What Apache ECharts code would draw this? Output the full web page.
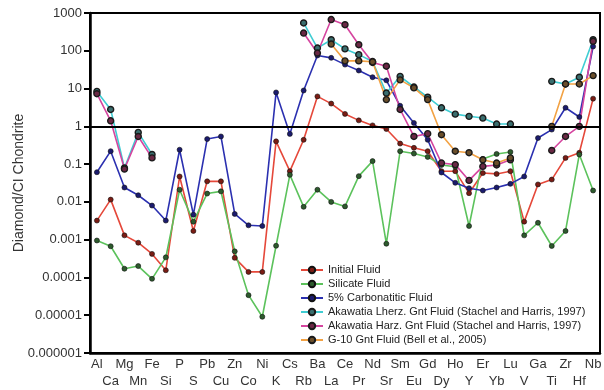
<!DOCTYPE html>
<html>
<head>
<meta charset="utf-8">
<script src="https://cdn.jsdelivr.net/npm/echarts@6/dist/echarts.min.js"></script>
<style>
  html, body { margin: 0; padding: 0; background: #fff; }
  #chart { width: 604px; height: 390px; }
</style>
</head>
<body>
<div id="chart"></div>
<script>
// Elements along the x axis
const categories = ['Al','Ca','Mg','Mn','Fe','Si','P','S','Pb','Cu','Zn','Co','Ni','K','Cs','Rb','Ba','La','Ce','Pr','Nd','Sr','Sm','Eu','Gd','Dy','Ho','Y','Er','Yb','Lu','V','Ga','Ti','Zr','Hf','Nb'];

// Diamond / CI chondrite ratios
const initialFluid = [0.0032,0.0115,0.0013,0.00083,0.00042,0.000155,0.047,0.0017,0.035,0.035,0.00033,0.00014,0.00014,
  0.40,0.065,0.44,6.2,4.0,2.13,1.44,1.06,0.85,0.35,0.27,0.22,0.065,0.065,0.017,0.058,0.055,0.065,0.003,0.029,0.039,0.146,0.2,5.4];
const silicateFluid = [0.00095,0.00067,0.00017,0.0002,0.000092,0.00034,0.021,0.003,0.0166,0.019,0.00049,0.000034,0.0000091,
  0.00069,0.052,0.0074,0.021,0.01,0.0076,0.048,0.12,0.00078,0.22,0.19,0.155,0.095,0.085,0.0023,0.137,0.186,0.21,0.0013,0.0028,0.00068,0.0017,0.18,0.02];
const carbonatiticFluid = [0.061,0.22,0.024,0.015,0.008,0.0032,0.24,0.0046,0.46,0.54,0.0048,0.0024,0.0023,
  7.9,0.63,8.9,75,65,43,30,20,16.5,3.5,1.23,0.44,0.06,0.032,0.023,0.02,0.024,0.03,0.047,0.49,0.82,3.1,1.77,130];
const lherzFluid = [8.4,2.8,0.079,0.69,0.18,null,null,null,null,null,null,null,null,null,null,
  545,118,196,112,79,52,7.6,21,11,5.9,3.1,2.1,1.84,1.66,1.15,1.15,null,null,15.5,13.2,20,196];
const harzFluid = [7.3,1.4,0.074,0.54,0.146,null,null,null,null,null,null,null,null,null,null,
  295,87,670,490,145,49,39,2.8,0.54,0.64,0.107,0.097,0.037,0.087,0.095,0.13,null,null,0.23,0.54,1.0,178];
const g10Fluid = [null,null,null,null,null,null,null,null,null,null,null,null,null,null,null,null,null,
  151,54,54,51,5.1,17,10.4,5.1,0.6,0.22,0.2,0.13,0.107,0.146,null,null,1.0,13.2,13.2,22];

// y-axis tick labels by power of ten
const yTickLabels = {'3':'1000','2':'100','1':'10','0':'1','-1':'0.1','-2':'0.01','-3':'0.001','-4':'0.0001','-5':'0.00001','-6':'0.000001'};

const FONT = 'Liberation Sans, Arial, Helvetica, sans-serif';

function smallSeries(name, data, lineColor, dotColor) {
  return {
    name, type: 'line', data,
    symbol: 'circle', symbolSize: 5,
    lineStyle: { color: lineColor, width: 1.6 },
    itemStyle: { color: dotColor, borderColor: '#111', borderWidth: 0.6 },
    emphasis: { disabled: true }
  };
}
function ringSeries(name, data, lineColor, fillColor) {
  return {
    name, type: 'line', data,
    symbol: 'circle', symbolSize: 6,
    lineStyle: { color: lineColor, width: 1.6 },
    itemStyle: { color: fillColor, borderColor: '#1a1a1a', borderWidth: 1.4 },
    emphasis: { disabled: true }
  };
}

const series = [
  smallSeries('Initial Fluid', initialFluid, '#e5483a', '#7a1c14'),
  smallSeries('Silicate Fluid', silicateFluid, '#5cc25c', '#2d5a2d'),
  smallSeries('5% Carbonatitic Fluid', carbonatiticFluid, '#2b30b0', '#1b1b6e'),
  ringSeries('Akawatia Lherz. Gnt Fluid (Stachel and Harris, 1997)', lherzFluid, '#3fcdd3', '#3a6e6e'),
  ringSeries('Akawatia Harz. Gnt Fluid (Stachel and Harris, 1997)', harzFluid, '#d5459f', '#6a2844'),
  ringSeries('G-10 Gnt Fluid (Bell et al., 2005)', g10Fluid, '#f2a244', '#6a4e2a')
];
// reference line at ratio = 1
series[0].markLine = {
  silent: true, symbol: 'none', label: { show: false },
  lineStyle: { color: '#000', width: 2, type: 'solid' },
  data: [{ yAxis: 1 }]
};

const chart = echarts.init(document.getElementById('chart'), null, { renderer: 'canvas' });
chart.setOption({
  animation: false,
  backgroundColor: '#fff',
  textStyle: { fontFamily: FONT },
  grid: {
    left: 90, right: 4, top: 13, bottom: 37,
    outerBoundsMode: 'none', containLabel: false,
    show: true, borderColor: '#000', borderWidth: 2
  },
  legend: {
    orient: 'vertical', left: 295, top: 259,
    itemWidth: 22, itemHeight: 8, itemGap: 2,
    textStyle: { fontSize: 11, color: '#222', fontFamily: FONT, lineHeight: 12 },
    data: series.map(s => s.name)
  },
  xAxis: {
    type: 'category', data: categories, boundaryGap: true,
    axisLine: { lineStyle: { color: '#000', width: 2.5 } },
    axisTick: { alignWithLabel: true, length: 5, lineStyle: { color: '#000', width: 2 } },
    axisLabel: {
      interval: 0, margin: 3, fontSize: 13, color: '#333', fontFamily: FONT, lineHeight: 17,
      formatter: (v, i) => (i % 2 === 0 ? v : '\n' + v)
    },
    splitLine: { show: false }
  },
  yAxis: {
    type: 'log', logBase: 10, min: 0.000001, max: 1000,
    name: 'Diamond/CI Chondrite', nameLocation: 'middle', nameGap: 64,
    nameMoveOverlap: false,
    nameTextStyle: { fontSize: 14, color: '#333', fontFamily: FONT },
    axisLine: { show: true, lineStyle: { color: '#000', width: 2.5 } },
    axisTick: { show: true, length: 6, lineStyle: { color: '#000', width: 2 } },
    axisLabel: {
      fontSize: 13, color: '#333', margin: 8, fontFamily: FONT,
      formatter: v => yTickLabels[String(Math.round(Math.log10(v)))] || ''
    },
    splitLine: { show: false }
  },
  series
});
</script>
</body>
</html>
